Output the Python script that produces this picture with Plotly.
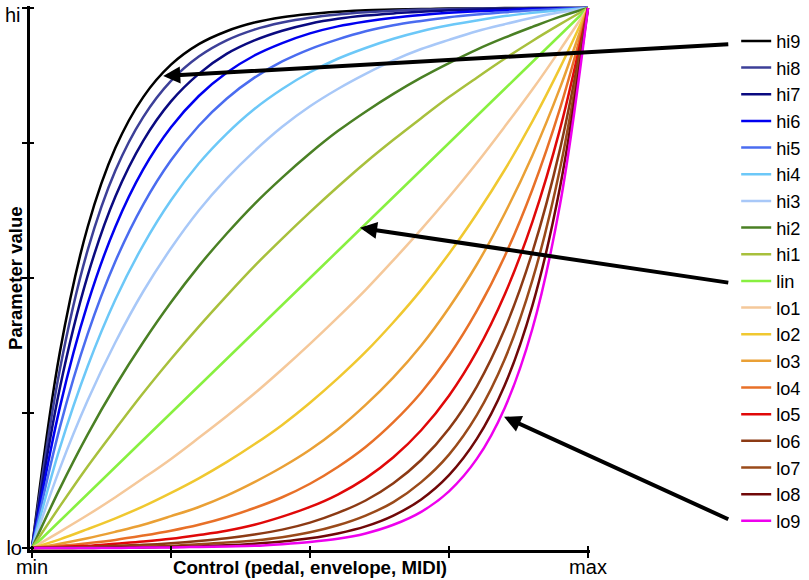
import plotly.graph_objects as go

# control positions (fraction of range)
x_vals = [0, 0.05, 0.1, 0.15, 0.2, 0.25, 0.3, 0.35, 0.4, 0.45, 0.5,
          0.55, 0.6, 0.65, 0.7, 0.75, 0.8, 0.85, 0.9, 0.95, 1]

hi9 = [0, .362, .594, .741, .835, .895, .933, .957, .973, .983, .989, .993, .996, .997, .998, .999, .999, 1, 1, 1, 1]
hi8 = [0, .330, .551, .699, .798, .865, .910, .940, .960, .973, .982, .988, .992, .995, .997, .998, .999, .999, 1, 1, 1]
hi7 = [0, .296, .504, .651, .754, .827, .878, .915, .940, .958, .971, .980, .986, .990, .993, .996, .997, .998, .999, 1, 1]
hi6 = [0, .260, .452, .595, .701, .779, .837, .880, .912, .935, .953, .966, .975, .982, .987, .991, .994, .996, .998, .999, 1]
hi5 = [0, .223, .396, .531, .636, .718, .782, .832, .871, .901, .924, .942, .957, .968, .976, .983, .988, .992, .996, .998, 1]
hi4 = [0, .185, .336, .460, .561, .644, .712, .767, .813, .850, .881, .906, .926, .943, .957, .968, .977, .985, .991, .996, 1]
hi3 = [0, .147, .273, .381, .475, .555, .625, .684, .735, .780, .818, .850, .878, .903, .924, .941, .957, .970, .982, .992, 1]
hi2 = [0, .110, .210, .300, .381, .455, .522, .582, .637, .686, .731, .772, .808, .841, .871, .898, .923, .945, .965, .984, 1]
hi1 = [0, .077, .151, .220, .287, .350, .410, .467, .522, .573, .622, .669, .714, .756, .796, .835, .871, .906, .939, .970, 1]
lin = [0, .05, .10, .15, .20, .25, .30, .35, .40, .45, .50, .55, .60, .65, .70, .75, .80, .85, .90, .95, 1]
lo1 = [0, .030, .061, .094, .129, .165, .204, .244, .286, .331, .378, .427, .478, .533, .590, .650, .713, .780, .849, .923, 1]
lo2 = [0, .016, .035, .055, .077, .102, .129, .159, .192, .228, .269, .314, .363, .418, .478, .545, .619, .700, .790, .890, 1]
lo3 = [0, .008, .018, .030, .043, .059, .076, .097, .122, .150, .182, .220, .265, .316, .375, .445, .525, .619, .727, .853, 1]
lo4 = [0, .004, .009, .015, .023, .032, .043, .057, .074, .094, .119, .150, .187, .233, .288, .356, .439, .540, .664, .815, 1]
lo5 = [0, .002, .004, .008, .012, .017, .024, .032, .043, .058, .076, .099, .129, .168, .218, .282, .364, .469, .604, .777, 1]
lo6 = [0, .001, .002, .004, .006, .009, .013, .018, .025, .034, .047, .065, .088, .120, .163, .221, .299, .405, .548, .740, 1]
lo7 = [0, 0, .001, .002, .003, .004, .007, .010, .014, .020, .029, .042, .060, .085, .122, .173, .246, .349, .496, .704, 1]
lo8 = [0, 0, 0, .001, .001, .002, .003, .005, .008, .012, .018, .027, .040, .060, .090, .135, .202, .301, .449, .670, 1]
lo9 = [0, 0, 0, 0, .001, .001, .002, .003, .004, .007, .011, .017, .027, .043, .067, .105, .165, .259, .406, .638, 1]

series_names = ["hi9", "hi8", "hi7", "hi6", "hi5", "hi4", "hi3", "hi2", "hi1", "lin",
                "lo1", "lo2", "lo3", "lo4", "lo5", "lo6", "lo7", "lo8", "lo9"]
series_values = [hi9, hi8, hi7, hi6, hi5, hi4, hi3, hi2, hi1, lin,
                 lo1, lo2, lo3, lo4, lo5, lo6, lo7, lo8, lo9]
series_colors = ["#000000", "#3c3f98", "#0a0a80", "#0000f0", "#4a6cf0", "#6cc8f8", "#a8c8f8",
                 "#4a8024", "#a8c03c", "#88f040",
                 "#f5c89a", "#f0c830", "#eaa035", "#e87028", "#e00808", "#8c3a14",
                 "#9a4a1a", "#700808", "#ee00ee"]

x_tick_vals = [0, 0.25, 0.5, 0.75, 1]
x_tick_text = ["min", "", "<b><span style='font-size:18.7px'>Control (pedal, envelope, MIDI)</span></b>", "", "max"]
y_tick_vals = [0, 0.25, 0.5, 0.75, 1]
y_tick_text = ["lo", "", "", "", ""]
y_top_label = "hi"

# arrows: (head x, head y, tail x, tail y) in data units
arrows = [(0.236, 0.874, 1.255, 0.933),
          (0.590, 0.593, 1.255, 0.491),
          (0.849, 0.243, 1.255, 0.052)]

FONT = "Liberation Sans, Arial, sans-serif"

fig = go.Figure()
for name, vals, col in zip(series_names, series_values, series_colors):
    fig.add_trace(go.Scatter(x=x_vals, y=vals, name=name, mode="lines",
                             line=dict(color=col, width=2.5, shape="spline", smoothing=1),
                             hoverinfo="skip"))

# empty trace to create overlay axes for inward tick halves
fig.add_trace(go.Scatter(x=[], y=[], xaxis="x2", yaxis="y2", showlegend=False, hoverinfo="skip"))

xr = [-0.0036, 1.0036]
yr = [-0.0037, 1.0037]

fig.update_layout(
    width=809, height=580,
    margin=dict(l=30, r=219, t=6, b=30, autoexpand=False),
    paper_bgcolor="white", plot_bgcolor="white",
    font=dict(family=FONT, size=20, color="black"),
    showlegend=True,
    legend=dict(xref="container", yref="container", x=0.910, y=0.961,
                xanchor="left", yanchor="top", maxheight=560,
                font=dict(family=FONT, size=18.2, color="black"),
                bgcolor="rgba(0,0,0,0)", tracegroupgap=0, itemwidth=30),
    xaxis=dict(range=xr, showgrid=False, zeroline=False, showline=True, linecolor="black",
               linewidth=3, ticks="outside", ticklen=5, tickwidth=2, tickcolor="black",
               tickvals=x_tick_vals, ticktext=x_tick_text, tickfont=dict(size=20),
               ticklabelstandoff=-8, ticklabeloverflow="allow", automargin=False, fixedrange=True),
    yaxis=dict(range=yr, showgrid=False, zeroline=False, showline=True, linecolor="black",
               linewidth=3, ticks="outside", ticklen=5, tickwidth=2, tickcolor="black",
               tickvals=y_tick_vals, ticktext=y_tick_text, tickfont=dict(size=20),
               ticklabelstandoff=-4, ticklabeloverflow="allow", automargin=False, fixedrange=True),
    xaxis2=dict(range=xr, overlaying="x", anchor="y2", showgrid=False, zeroline=False, showline=False,
                ticks="inside", ticklen=4, tickwidth=2, tickcolor="black", tickvals=x_tick_vals,
                showticklabels=False, side="bottom", automargin=False),
    yaxis2=dict(range=yr, overlaying="y", anchor="x2", showgrid=False, zeroline=False, showline=False,
                ticks="inside", ticklen=4, tickwidth=2, tickcolor="black", tickvals=y_tick_vals,
                showticklabels=False, side="left", automargin=False),
)

fig.add_annotation(text="<b>Parameter value</b>", xref="paper", yref="paper",
                   x=-0.0268, y=0.5, xanchor="center", yanchor="middle",
                   textangle=-90, showarrow=False,
                   font=dict(family=FONT, size=18.6, color="black"))

# top y label sits just below the top tick so it stays inside the picture
fig.add_annotation(text=y_top_label, xref="paper", yref="y", x=-0.0125, y=1, yshift=-7,
                   xanchor="right", yanchor="middle", showarrow=False,
                   font=dict(family=FONT, size=20, color="black"))

for hx, hy, tx, ty in arrows:
    fig.add_annotation(x=hx, y=hy, ax=tx, ay=ty, xref="x", yref="y", axref="x", ayref="y",
                       text="", showarrow=True, arrowhead=2, arrowsize=0.85, arrowwidth=4,
                       arrowcolor="black", standoff=0)

# remove the default 8px page margin so the figure fills the window exactly
fig.write_html("out.html", config={"displayModeBar": False},
               post_script="document.body.style.margin='0';")
